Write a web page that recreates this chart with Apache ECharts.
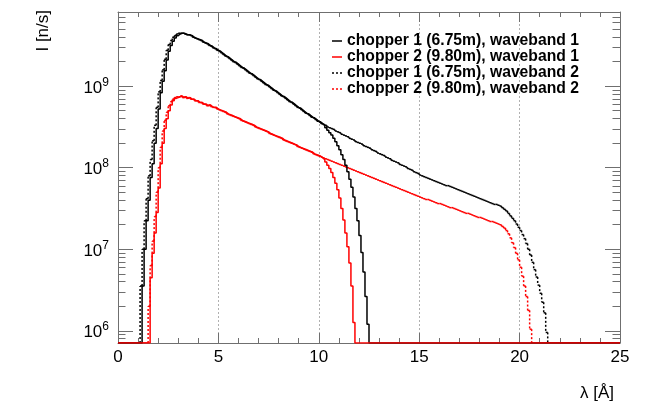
<!DOCTYPE html>
<html>
<head>
<meta charset="utf-8">
<script src="https://cdn.jsdelivr.net/npm/echarts@6/dist/echarts.min.js"></script>
<style>
  html, body { margin: 0; padding: 0; background: #fff; }
  #chart { width: 650px; height: 406px; }
</style>
</head>
<body>
<div id="chart"></div>
<script>
// ---------------- data (histograms, bin width 0.1 Å, values = log10(I [n/s])) ----------------
const BIN = 0.1;            // Å
const X_MAX = 25;           // Å
const Y_MIN = 5.85;         // log10 of axis minimum (empty bins are drawn here)
const Y_MAX = 9.91;         // log10 of axis maximum

const xTickLabels = [0, 5, 10, 15, 20, 25];
const yDecades = [6, 7, 8, 9];   // labels 10^6 ... 10^9

const seriesNames = [
  'chopper 1 (6.75m), waveband 1',
  'chopper 2 (9.80m), waveband 1',
  'chopper 1 (6.75m), waveband 2',
  'chopper 2 (9.80m), waveband 2'
];

// chopper 1, waveband 1 (black solid), first bin starts at 1.2 Å
const c1w1Start = 1.2;
const c1w1 = [
  6.55, 7.00, 7.35, 7.60, 7.88, 8.05, 8.30, 8.48,
  8.72, 8.92, 9.06, 9.19, 9.32, 9.43, 9.50, 9.55, 9.59, 9.62,
  9.64, 9.65, 9.65, 9.64, 9.63, 9.63, 9.62, 9.60, 9.59, 9.58,
  9.57, 9.56, 9.54, 9.53, 9.52, 9.50, 9.49, 9.47, 9.46, 9.44,
  9.43, 9.41, 9.39, 9.37, 9.36, 9.34, 9.32, 9.30, 9.29, 9.27,
  9.25, 9.23, 9.22, 9.20, 9.18, 9.16, 9.15, 9.13, 9.11, 9.09,
  9.08, 9.06, 9.04, 9.02, 9.01, 8.99, 8.97, 8.95, 8.94, 8.92,
  8.90, 8.88, 8.87, 8.85, 8.83, 8.81, 8.80, 8.78, 8.76, 8.74,
  8.73, 8.71, 8.69, 8.67, 8.66, 8.64, 8.62, 8.61, 8.59, 8.57,
  8.56, 8.54, 8.52, 8.49, 8.46, 8.43, 8.40, 8.36, 8.32, 8.27,
  8.22, 8.16, 8.10, 8.03, 7.95, 7.86, 7.76, 7.64, 7.50, 7.35,
  7.17, 6.96, 6.72, 6.42, 6.08
];

// chopper 2, waveband 1 (red solid), first bin starts at 1.6 Å
const c2w1Start = 1.6;
const c2w1 = [
  6.65, 6.95, 7.20, 7.45,
  7.75, 8.05, 8.30, 8.48, 8.60, 8.70, 8.77, 8.82, 8.85, 8.86,
  8.87, 8.88, 8.86, 8.87, 8.85, 8.86, 8.84, 8.84, 8.82, 8.82,
  8.80, 8.80, 8.78, 8.78, 8.76, 8.77, 8.75, 8.74, 8.74, 8.72,
  8.71, 8.70, 8.69, 8.68, 8.66, 8.65, 8.64, 8.63, 8.62, 8.61,
  8.60, 8.58, 8.57, 8.56, 8.55, 8.54, 8.53, 8.52, 8.50, 8.49,
  8.48, 8.47, 8.46, 8.45, 8.44, 8.42, 8.41, 8.40, 8.39, 8.38,
  8.37, 8.36, 8.34, 8.33, 8.32, 8.31, 8.30, 8.29, 8.28, 8.26,
  8.25, 8.24, 8.23, 8.22, 8.21, 8.20, 8.19, 8.17, 8.16, 8.15,
  8.14, 8.12, 8.10, 8.07, 8.03, 7.99, 7.94, 7.88, 7.81, 7.73,
  7.63, 7.50, 7.36, 7.20, 7.03, 6.83, 6.55, 6.10
];

// chopper 1, waveband 2 (black dotted), first bin starts at 1.1 Å
const c1w2Start = 1.1;
const c1w2 = [
  6.55, 7.00, 7.35, 7.62, 7.90, 8.10, 8.33, 8.52, 8.74,
  8.93, 9.07, 9.20, 9.33, 9.44, 9.51, 9.56, 9.60, 9.62, 9.64,
  9.65, 9.65, 9.65, 9.64, 9.63, 9.63, 9.62, 9.60, 9.59, 9.58,
  9.57, 9.56, 9.54, 9.53, 9.52, 9.50, 9.49, 9.47, 9.46, 9.44,
  9.43, 9.41, 9.39, 9.37, 9.36, 9.34, 9.32, 9.30, 9.29, 9.27,
  9.25, 9.23, 9.22, 9.20, 9.18, 9.16, 9.15, 9.13, 9.11, 9.09,
  9.08, 9.06, 9.04, 9.02, 9.01, 8.99, 8.97, 8.95, 8.94, 8.92,
  8.90, 8.88, 8.87, 8.85, 8.83, 8.81, 8.80, 8.78, 8.76, 8.74,
  8.73, 8.71, 8.69, 8.67, 8.66, 8.64, 8.62, 8.61, 8.59, 8.57,
  8.56, 8.54, 8.53, 8.52, 8.50, 8.49, 8.48, 8.47, 8.45, 8.44,
  8.43, 8.41, 8.40, 8.39, 8.38, 8.36, 8.35, 8.34, 8.32, 8.31,
  8.30, 8.29, 8.27, 8.26, 8.25, 8.24, 8.22, 8.21, 8.20, 8.18,
  8.17, 8.16, 8.15, 8.13, 8.12, 8.11, 8.09, 8.08, 8.07, 8.06,
  8.04, 8.03, 8.02, 8.01, 7.99, 7.98, 7.97, 7.95, 7.94, 7.93,
  7.91, 7.90, 7.89, 7.88, 7.87, 7.86, 7.85, 7.84, 7.83, 7.82,
  7.81, 7.80, 7.79, 7.78, 7.78, 7.77, 7.76, 7.75, 7.74, 7.73,
  7.72, 7.71, 7.70, 7.69, 7.68, 7.67, 7.66, 7.65, 7.64, 7.63,
  7.62, 7.61, 7.60, 7.59, 7.58, 7.57, 7.56, 7.55, 7.55, 7.54,
  7.53, 7.51, 7.49, 7.47, 7.44, 7.41, 7.38, 7.35, 7.31, 7.27,
  7.23, 7.18, 7.13, 7.07, 7.00, 6.93, 6.84, 6.75, 6.66, 6.56,
  6.46, 6.35, 6.22, 5.98
];

// chopper 2, waveband 2 (red dotted), first bin starts at 1.5 Å
const c2w2Start = 1.5;
const c2w2 = [
  6.30, 6.80, 7.10, 7.40, 7.70,
  8.00, 8.25, 8.45, 8.58, 8.68, 8.76, 8.81, 8.84, 8.86, 8.87,
  8.87, 8.88, 8.86, 8.87, 8.85, 8.86, 8.84, 8.84, 8.82, 8.82,
  8.80, 8.80, 8.78, 8.78, 8.76, 8.77, 8.75, 8.74, 8.74, 8.72,
  8.71, 8.70, 8.69, 8.68, 8.66, 8.65, 8.64, 8.63, 8.62, 8.61,
  8.60, 8.58, 8.57, 8.56, 8.55, 8.54, 8.53, 8.52, 8.50, 8.49,
  8.48, 8.47, 8.46, 8.45, 8.44, 8.42, 8.41, 8.40, 8.39, 8.38,
  8.37, 8.36, 8.34, 8.33, 8.32, 8.31, 8.30, 8.29, 8.28, 8.26,
  8.25, 8.24, 8.23, 8.22, 8.21, 8.20, 8.19, 8.17, 8.16, 8.15,
  8.14, 8.13, 8.12, 8.11, 8.10, 8.09, 8.08, 8.07, 8.06, 8.05,
  8.04, 8.03, 8.02, 8.01, 8.00, 7.99, 7.98, 7.97, 7.96, 7.95,
  7.94, 7.93, 7.92, 7.91, 7.90, 7.89, 7.88, 7.87, 7.86, 7.85,
  7.84, 7.83, 7.82, 7.81, 7.80, 7.79, 7.78, 7.77, 7.76, 7.75,
  7.74, 7.73, 7.72, 7.71, 7.70, 7.69, 7.68, 7.67, 7.66, 7.65,
  7.64, 7.63, 7.62, 7.61, 7.61, 7.60, 7.59, 7.58, 7.57, 7.56,
  7.56, 7.55, 7.54, 7.53, 7.52, 7.51, 7.51, 7.50, 7.49, 7.48,
  7.47, 7.46, 7.45, 7.44, 7.44, 7.43, 7.42, 7.41, 7.40, 7.39,
  7.39, 7.38, 7.37, 7.36, 7.35, 7.34, 7.34, 7.33, 7.32, 7.31,
  7.30, 7.28, 7.26, 7.23, 7.19, 7.14, 7.08, 7.02, 6.95, 6.87,
  6.78, 6.67, 6.55, 6.42, 6.25, 6.02
];

// ---------------- build ----------------
const N_BINS = Math.round(X_MAX / BIN);
function binValues(start, vals) {
  const s = Math.round(start / BIN);
  const out = [];
  for (let j = 0; j < N_BINS; j++) {
    const k = j - s;
    out.push((k >= 0 && k < vals.length) ? vals[k] : Y_MIN);
  }
  return out;
}
// points for a step line (low edge, content) + closing point
function stepPoints(start, vals) {
  const v = binValues(start, vals);
  const pts = v.map((y, j) => [+(j * BIN).toFixed(2), y]);
  pts.push([X_MAX, v[v.length - 1]]);
  return pts;
}
// per-bin segments [lowEdge, highEdge, content, nextContent] for dotted drawing
function binSegments(start, vals) {
  const v = binValues(start, vals);
  return v.map((y, j) => [+(j * BIN).toFixed(2), +((j + 1) * BIN).toFixed(2), y,
                          j + 1 < v.length ? v[j + 1] : y]);
}

const minorY = [];
for (let n = 5; n <= 9; n++) {
  for (let k = 2; k <= 9; k++) {
    const v = n + Math.log10(k);
    if (v > Y_MIN && v < Y_MAX) minorY.push(v);
  }
}

const FONT = 'Liberation Sans, Arial, Helvetica, sans-serif';
const AX = '#6f6f6f';

function yAxisDef(pos, major, showLabels) {
  return {
    type: 'value', position: pos, min: Y_MIN, max: Y_MAX, offset: 0,
    axisLine: { show: major, onZero: false, lineStyle: { color: AX, width: 1 } },
    axisTick: {
      show: true, inside: true, length: major ? 15 : 7.5,
      customValues: major ? yDecades : minorY,
      lineStyle: { color: AX, width: 1 }
    },
    axisLabel: showLabels ? {
      show: true, customValues: yDecades, margin: 9,
      formatter: v => '{b|10}{s|' + Math.round(v) + '}',
      rich: {
        b: { fontSize: 17, fontFamily: FONT, color: '#000', padding: [4, 0, 0, 0] },
        s: { fontSize: 12, fontFamily: FONT, color: '#000', padding: [0, 0, 8, 0] }
      }
    } : { show: false },
    splitLine: { show: false }
  };
}

function xAxisDef(pos, showLabels) {
  return {
    type: 'value', position: pos, min: 0, max: X_MAX, interval: 5,
    axisLine: { show: true, onZero: false, lineStyle: { color: AX, width: 1 } },
    axisTick: { show: true, inside: true, length: 10, lineStyle: { color: AX, width: 1 } },
    minorTick: { show: true, splitNumber: 5, length: 5, lineStyle: { color: AX, width: 1 } },
    axisLabel: showLabels ? {
      show: true, margin: 6, fontSize: 17, fontFamily: FONT, color: '#000',
      formatter: v => (xTickLabels.indexOf(v) >= 0 ? String(v) : '')
    } : { show: false },
    splitLine: showLabels ? { show: true, lineStyle: { color: '#b0b0b0', width: 1, type: [2, 2] } } : { show: false }
  };
}

const colors = ['#000000', '#ff0000', '#000000', '#ff0000'];
const LW = 1.5;

function solidSeries(i, start, vals) {
  return {
    name: seriesNames[i], type: 'line', step: 'end',
    data: stepPoints(start, vals), symbol: 'none', showSymbol: false, clip: true,
    lineStyle: { color: colors[i], width: LW, type: 'solid' },
    itemStyle: { color: colors[i] }
  };
}
// dotted histogram: each bin segment gets its own dash pattern (as in ROOT output)
function dottedSeries(i, start, vals) {
  const col = colors[i];
  return {
    name: seriesNames[i], type: 'custom', clip: true,
    data: binSegments(start, vals),
    encode: { x: [0, 1], y: [2, 3] },
    itemStyle: { color: col },
    renderItem: (params, api) => {
      const p0 = api.coord([api.value(0), api.value(2)]);
      const p1 = api.coord([api.value(1), api.value(2)]);
      const p2 = api.coord([api.value(1), api.value(3)]);
      const st = { stroke: col, lineWidth: LW, lineDash: [2, 2], fill: null };
      return {
        type: 'group', children: [
          { type: 'line', shape: { x1: p0[0], y1: p0[1], x2: p1[0], y2: p1[1] }, style: st },
          { type: 'line', shape: { x1: p1[0], y1: p1[1], x2: p2[0], y2: p2[1] }, style: st }
        ]
      };
    }
  };
}

const ICON_SOLID = 'path://M0,0H10V1.5H0Z';
const ICON_DOT = 'path://M0,0h2v1.5h-2zM4,0h2v1.5h-2zM8,0h2v1.5h-2z';

const chart = echarts.init(document.getElementById('chart'), null, { renderer: 'canvas' });
chart.setOption({
  animation: false,
  backgroundColor: '#ffffff',
  grid: { left: 118, right: 30, top: 12, bottom: 63, containLabel: false },
  xAxis: [xAxisDef('bottom', true), xAxisDef('top', false)],
  yAxis: [
    yAxisDef('left', true, true),
    yAxisDef('left', false, false),
    yAxisDef('right', true, false),
    yAxisDef('right', false, false)
  ],
  legend: {
    show: true, orient: 'vertical', left: 332, top: 33, padding: 0,
    itemWidth: 10, itemHeight: 1.5, itemGap: 0,
    itemStyle: { borderWidth: 0 },
    data: [
      { name: seriesNames[0], icon: ICON_SOLID },
      { name: seriesNames[1], icon: ICON_SOLID },
      { name: seriesNames[2], icon: ICON_DOT },
      { name: seriesNames[3], icon: ICON_DOT }
    ],
    textStyle: { fontSize: 15.7, fontWeight: 'bold', fontFamily: FONT, color: '#000', lineHeight: 15.6 }
  },
  series: [
    solidSeries(0, c1w1Start, c1w1),
    solidSeries(1, c2w1Start, c2w1),
    dottedSeries(2, c1w2Start, c1w2),
    dottedSeries(3, c2w2Start, c2w2)
  ],
  graphic: [
    {
      type: 'text', x: 43, y: 10, rotation: Math.PI / 2,
      style: { text: 'I [n/s]', fontSize: 17, fontFamily: FONT, fill: '#000', align: 'right', verticalAlign: 'middle' }
    },
    {
      type: 'text', x: 614, y: 393,
      style: { text: 'λ [Å]', fontSize: 17, fontFamily: FONT, fill: '#000', align: 'right', verticalAlign: 'middle' }
    }
  ]
});
</script>
</body>
</html>
